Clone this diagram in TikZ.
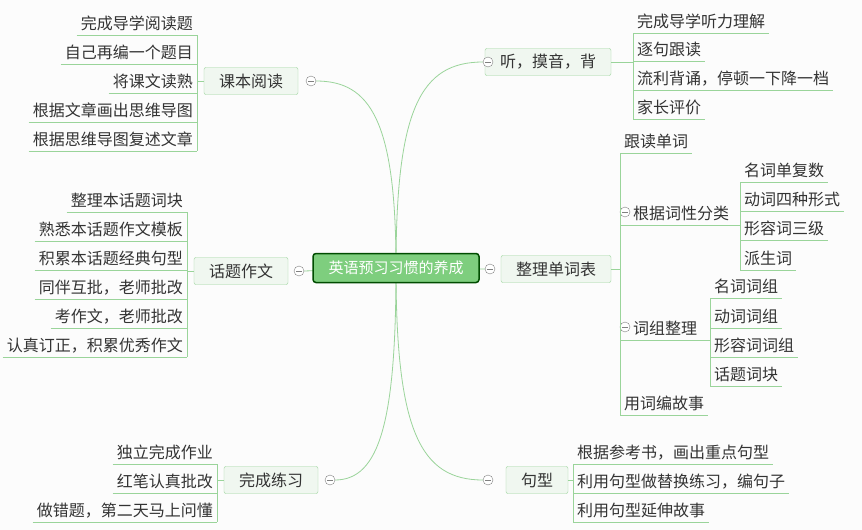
\documentclass[tikz,border=0pt]{standalone}
\usepackage{fontspec}
\newfontfamily\cjk{Noto Sans CJK SC}
\definecolor{lg}{HTML}{9AD49A}
\definecolor{bf}{HTML}{F0F7F0}
\definecolor{tx}{HTML}{333333}
\begin{document}
\begin{tikzpicture}[x=1pt,y=-1pt,font=\cjk\fontsize{16}{18}\selectfont,
  br/.style={draw=lg,fill=bf,rounded corners=2,minimum height=27,inner xsep=15,text=tx},
  lf/.style={inner xsep=4,inner ysep=4,text=tx},
  ln/.style={draw=lg,line width=0.8},
  cc/.style={circle,draw=gray,fill=white,inner sep=0,minimum size=10}]
\clip (0,0) rectangle (862,530);
\fill[white!98!gray] (0,0) rectangle (862,530);
\newcommand\leafR[4]{\node[lf,anchor=south west] (#1) at (#2,#3) {#4};\draw[ln] (#1.south west)--(#1.south east);}
\newcommand\leafL[4]{\node[lf,anchor=south east] (#1) at (#2,#3) {#4};\draw[ln] (#1.south west)--(#1.south east);}
\newcommand\col[2]{\node[cc] (cc#1#2) at (#1,#2) {};\draw[gray] ([xshift=-3]cc#1#2.center)--([xshift=3]cc#1#2.center);}
% curves
\coordinate (c) at (396,268);
\draw[ln] (c) .. controls (396,110) and (420,62) .. (483,62);
\draw[ln] (c) .. controls (396,430) and (420,480) .. (483,480);
\draw[ln] (c) .. controls (396,120) and (370,81) .. (316,81);
\draw[ln] (c) .. controls (396,420) and (380,480) .. (335,480);
\draw[ln] (c) -- (485,269);
\draw[ln] (c) -- (304,271);
% center
\node[draw=green!30!black,line width=1.5,fill=green!45!gray!70!white,rounded corners=3,minimum width=166,minimum height=29,text=white,font=\cjk\fontsize{15}{17}\selectfont] (root) at (c) {英语预习习惯的养成};
% branches
\node[br] (b1) at (548,62) {听，摸音，背}; \col{488}{62}
\node[br] (b2) at (556,269) {整理单词表}; \col{490}{269}
\node[br] (b3) at (537,480) {句型}; \col{488}{480}
\node[br] (b4) at (251,81) {课本阅读}; \col{311}{81}
\node[br] (b5) at (241,271) {话题作文}; \col{299}{271}
\node[br] (b6) at (271,480) {完成练习}; \col{330}{480}
% b1 leaves
\leafR{a1}{633}{33}{完成导学听力理解}
\leafR{a2}{633}{61}{逐句跟读}
\leafR{a3}{633}{90}{流利背诵，停顿一下降一档}
\leafR{a4}{633}{119}{家长评价}
\draw[ln] (a1.south west)--(a4.south west); \draw[ln] (b1.east)--(633,62);
% b2
\leafR{d1}{620}{153}{跟读单词}
\node[lf,anchor=south west] (d2) at (620,225) {\hspace{9pt}根据词性分类};\draw[ln] (d2.south west)--(d2.south east); \col{625}{212}
\node[lf,anchor=south west] (d3) at (620,340) {\hspace{9pt}词组整理};\draw[ln] (d3.south west)--(d3.south east); \col{625}{327}
\leafR{d4}{620}{415}{用词编故事}
\draw[ln] (d1.south west)--(d4.south west); \draw[ln] (b2.east)--(620,269);
\leafR{e1}{740}{182}{名词单复数}
\leafR{e2}{740}{211}{动词四种形式}
\leafR{e3}{740}{240}{形容词三级}
\leafR{e4}{740}{270}{派生词}
\draw[ln] (e1.south west)--(e4.south west); \draw[ln] (d2.south east)--(740,225);
\leafR{f1}{710}{298}{名词词组}
\leafR{f2}{710}{328}{动词词组}
\leafR{f3}{710}{357}{形容词词组}
\leafR{f4}{710}{386}{话题词块}
\draw[ln] (f1.south west)--(f4.south west); \draw[ln] (d3.south east)--(710,340);
% b3
\leafR{g1}{573}{464}{根据参考书，画出重点句型}
\leafR{g2}{573}{493}{利用句型做替换练习，编句子}
\leafR{g3}{573}{522}{利用句型延伸故事}
\draw[ln] (g1.south west)--(g3.south west); \draw[ln] (b3.east)--(573,480);
% b4
\leafL{h1}{197}{35}{完成导学阅读题}
\leafL{h2}{197}{64}{自己再编一个题目}
\leafL{h3}{197}{93}{将课文读熟}
\leafL{h4}{197}{122}{根据文章画出思维导图}
\leafL{h5}{197}{151}{根据思维导图复述文章}
\draw[ln] (h1.south east)--(h5.south east); \draw[ln] (b4.west)--(197,81);
% b5
\leafL{k1}{187}{212}{整理本话题词块}
\leafL{k2}{187}{241}{熟悉本话题作文模板}
\leafL{k3}{187}{270}{积累本话题经典句型}
\leafL{k4}{187}{299}{同伴互批，老师批改}
\leafL{k5}{187}{328}{考作文，老师批改}
\leafL{k6}{187}{357}{认真订正，积累优秀作文}
\draw[ln] (k1.south east)--(k6.south east); \draw[ln] (b5.west)--(187,271);
% b6
\leafL{m1}{217}{464}{独立完成作业}
\leafL{m2}{217}{493}{红笔认真批改}
\leafL{m3}{217}{522}{做错题，第二天马上问懂}
\draw[ln] (m1.south east)--(m3.south east); \draw[ln] (b6.west)--(217,480);
\end{tikzpicture}
\end{document}
